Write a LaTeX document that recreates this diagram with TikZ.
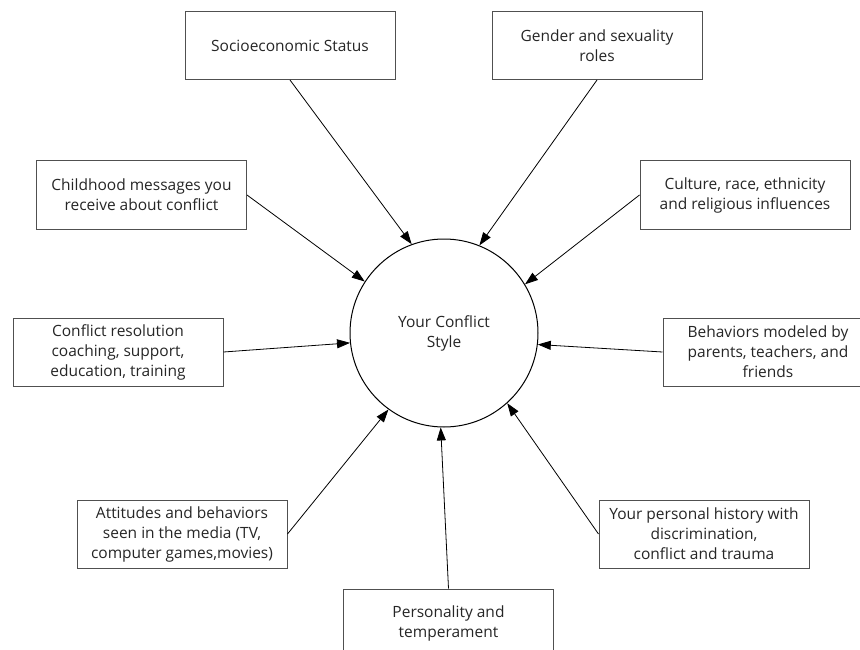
\documentclass[tikz,border=0pt]{standalone}
\usepackage{fontspec}
\setmainfont{Open Sans}
\usetikzlibrary{arrows.meta}
\definecolor{txt}{HTML}{262626}
\definecolor{edge}{HTML}{505050}
\begin{document}
\begin{tikzpicture}[x=1pt,y=-1pt,
  factor/.style={draw=edge,line width=1pt,rectangle,minimum width=210pt,minimum height=68pt,
    align=center,text=txt,font=\fontsize{15.5}{20}\selectfont,inner sep=0pt},
  hub/.style={draw=black,line width=1pt,circle,minimum size=188pt,inner sep=0pt,
    align=center,text=txt,font=\fontsize{15.5}{20}\selectfont},
  feed/.style={draw=black,line width=0.8pt,-{Triangle[length=13pt,width=9pt]}}]
\useasboundingbox (0,0) rectangle (860,650);
\clip (0,0) rectangle (860,650);
\fill[white] (0,0) rectangle (860,650);
\node[hub] (circ) at (444,333) {Your Conflict\\Style};
\node[factor] (socio) at (290,45.5) {Socioeconomic Status};
\node[factor] (gender) at (597,45.5) {Gender and sexuality\\roles};
\node[factor] (child) at (141.5,195) {Childhood messages you\\receive about conflict};
\node[factor] (culture) at (745,195) {Culture, race, ethnicity\\and religious influences};
\node[factor] (conres) at (118,352) {Conflict resolution\\coaching, support,\\education, training};
\node[factor] (behav) at (768,352) {Behaviors modeled by\\parents, teachers, and\\friends};
\node[factor] (attit) at (182,534) {Attitudes and behaviors\\seen in the media (TV,\\computer games,movies)};
\node[factor] (hist) at (704,534) {Your personal history with\\discrimination,\\conflict and trauma};
\node[factor] (pers) at (448.5,623) {Personality and\\temperament};
\draw[feed] (socio.south) -- (circ.110.7);
\draw[feed] (gender.south) -- (circ.68.1);
\draw[feed] (child.east) -- (circ.147.6);
\draw[feed] (culture.west) -- (circ.31.1);
\draw[feed] (conres.east) -- (circ.186.7);
\draw[feed] (behav.west) -- (circ.353.6);
\draw[feed] (attit.east) -- (circ.234.7);
\draw[feed] (hist.west) -- (circ.312.8);
\draw[feed] (pers.north) -- (circ.268);
\end{tikzpicture}
\end{document}
